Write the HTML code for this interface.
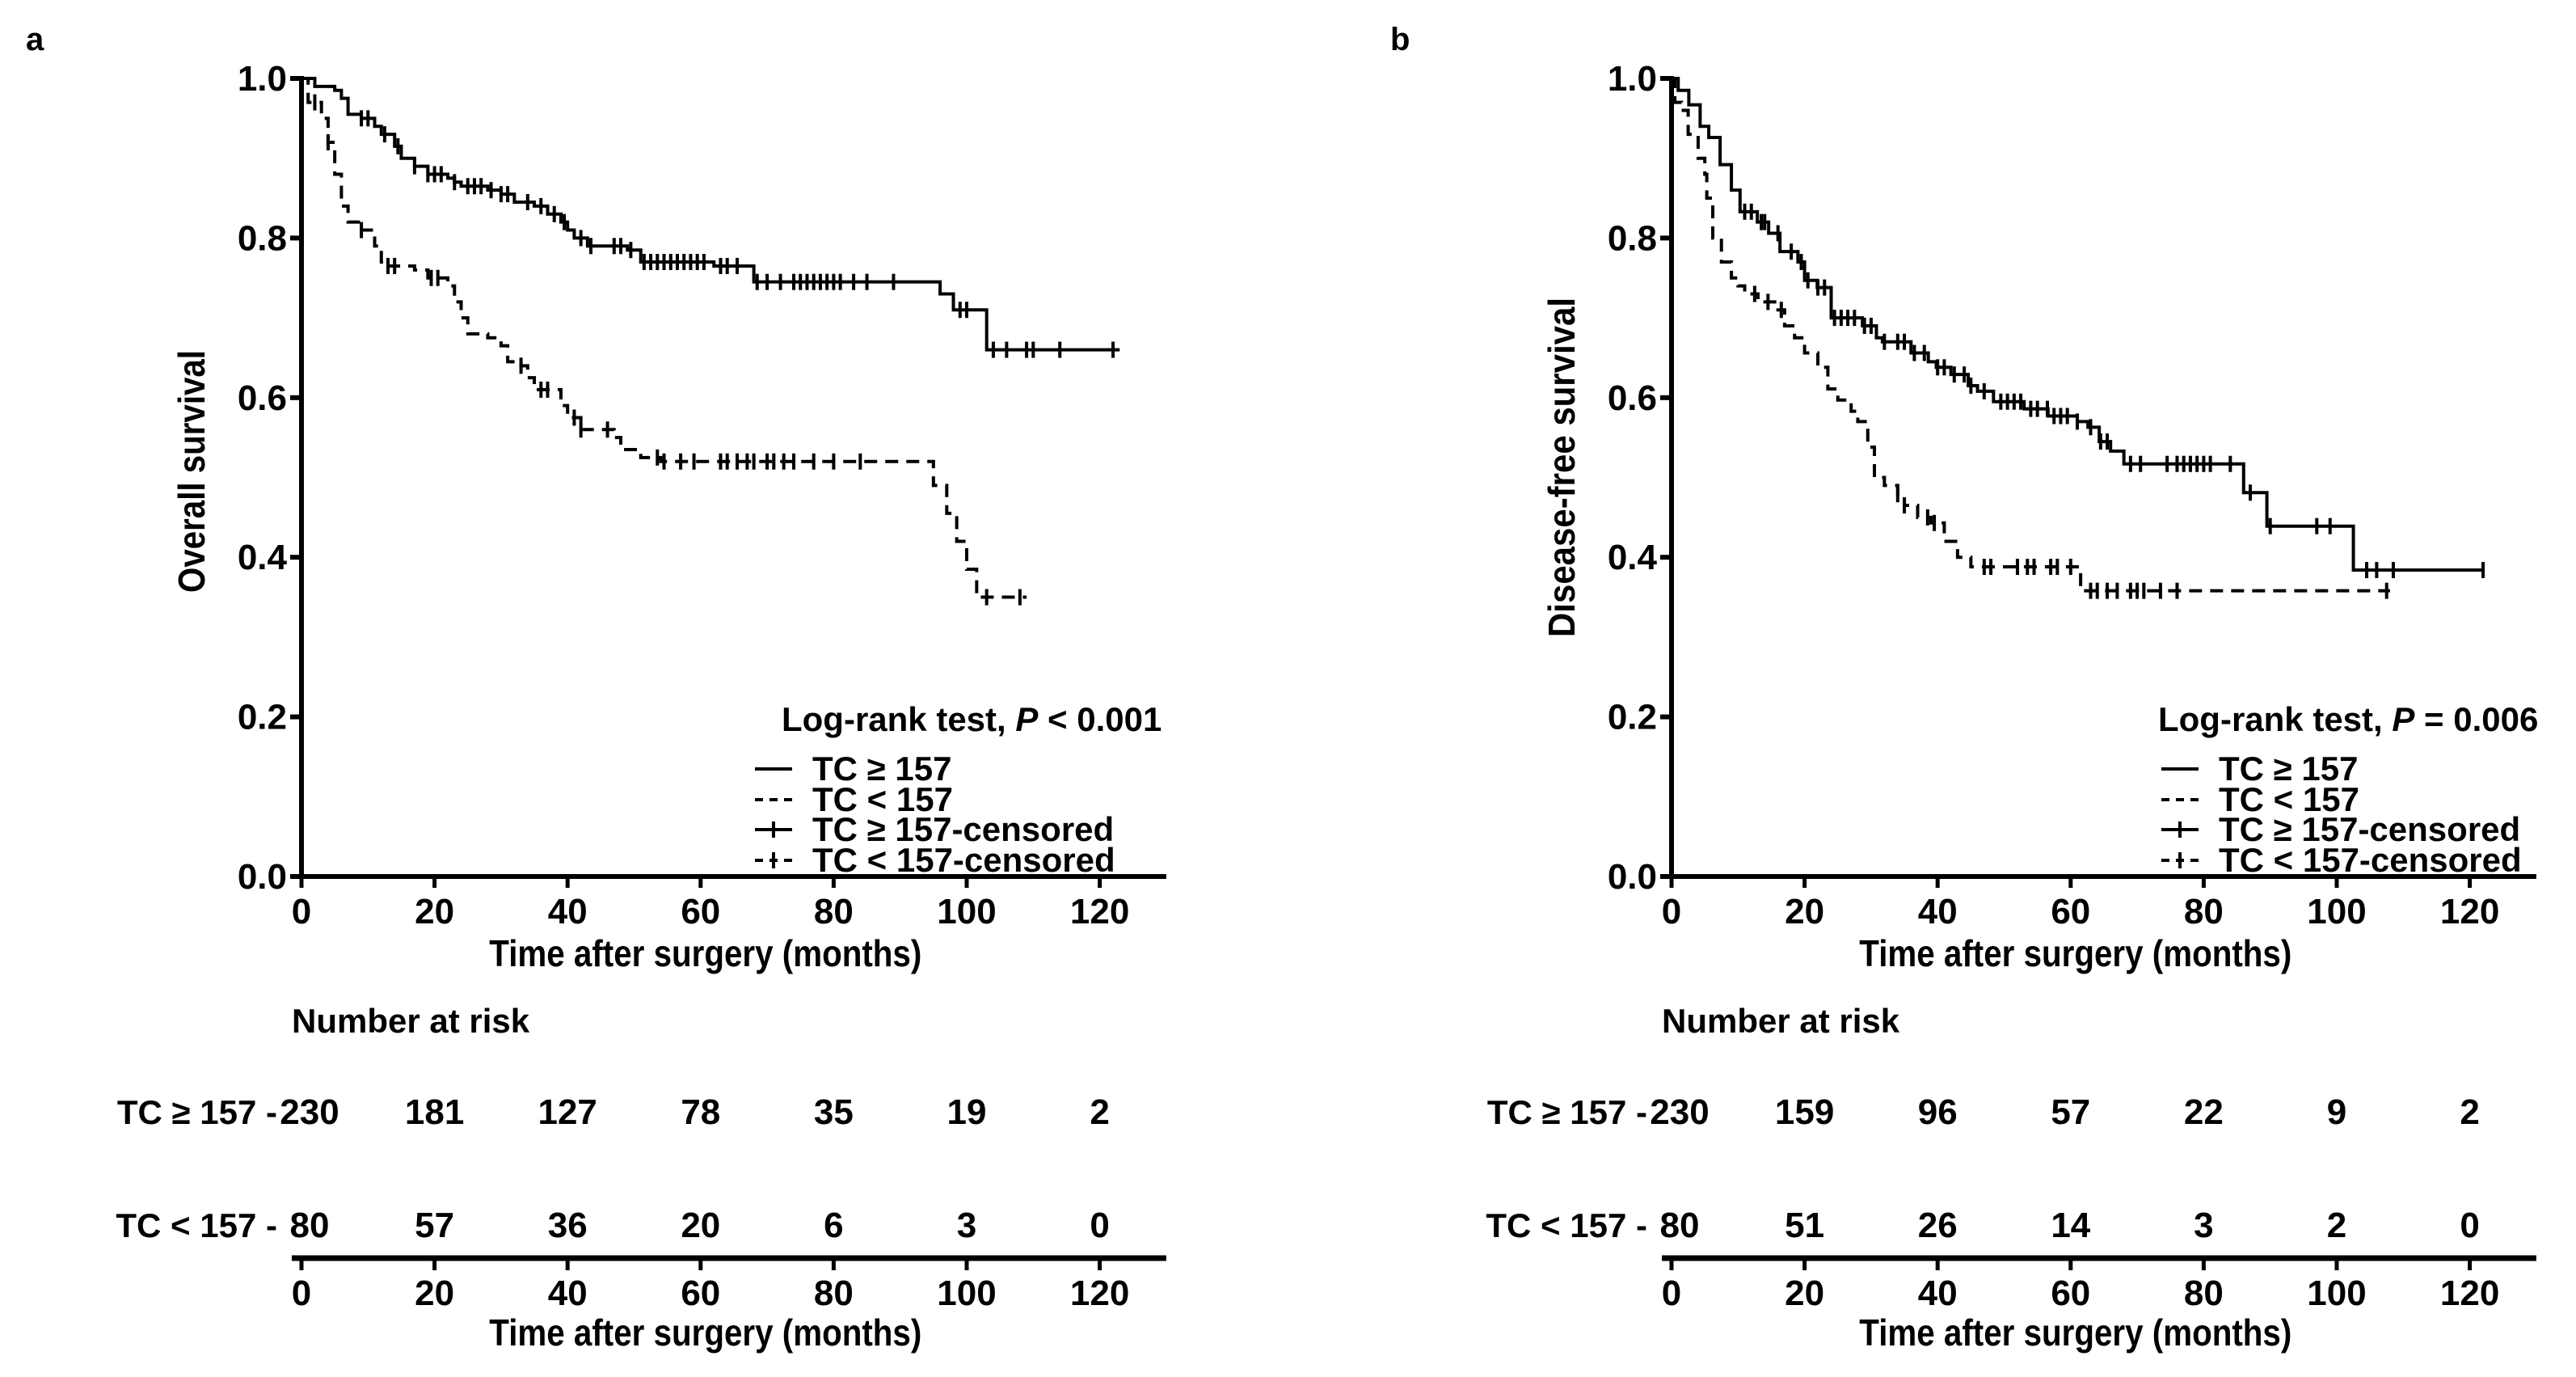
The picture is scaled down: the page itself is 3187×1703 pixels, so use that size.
<!DOCTYPE html>
<html><head><meta charset="utf-8"><style>
html,body{margin:0;padding:0;background:#fff;}
svg{display:block;}
text{font-family:"Liberation Sans",sans-serif;font-weight:bold;fill:#000;}
</style></head><body>
<svg id="fig" width="3187" height="1703" viewBox="0 0 3187 1703" xmlns="http://www.w3.org/2000/svg"></svg>
<script>
// ---- Data ----
const tickMonths = [0,20,40,60,80,100,120];
const yTicks = [0,0.2,0.4,0.6,0.8,1.0];
const yTickLabels = ["0.0","0.2","0.4","0.6","0.8","1.0"];

const aHighT = [0,2,5,6,7,9,11,12,14,15,17,19,22,23,24,28,30,32,35,37,39,40,41,43,49,51,62,68,96,98,103];
const aHighS = [1,0.99,0.985,0.975,0.955,0.95,0.94,0.93,0.915,0.90,0.89,0.88,0.875,0.87,0.865,0.86,0.855,0.845,0.84,0.83,0.82,0.81,0.80,0.79,0.785,0.77,0.765,0.745,0.73,0.71,0.66];
const aHighEnd = 123;
const aHighCens = [9,10,12.5,14.5,17,19,20,21,23,25,26,27,28.5,30,31,34,36,38,39.5,42,43.5,47,48,49.5,51.5,52.5,53.5,54.5,55.5,56.5,57.5,58.5,59.5,60.5,63,64,65.5,68.5,70,72,74,75,76,77,78,79,80,81,83,85,89,99,100,104,106,109,110,114,122];

const aLowT = [0,1,3,4,5,6,7,9,11,12,13,17,19,22,23,24,25,28,30,31,33,34,35,39,40,42,47,48,51,54,95,97,98.5,100,101.5];
const aLowS = [1,0.97,0.95,0.92,0.88,0.84,0.82,0.81,0.79,0.77,0.765,0.76,0.75,0.74,0.72,0.70,0.68,0.675,0.665,0.645,0.64,0.625,0.61,0.59,0.575,0.56,0.55,0.535,0.525,0.52,0.49,0.455,0.42,0.385,0.35];
const aLowEnd = 109;
const aLowCens = [2,4,9,13,14,19.5,20.5,33,36,37,41,42,46,53.5,54.5,57,59,63,64,65.5,67,68,70,71,72.5,74,77,80,84,103,108];

const bHighT = [0,1,2.6,4.3,5.6,7.3,9,10.3,12.9,14.6,16.3,19,20,21.9,24,28.7,30.8,31.7,36,38.6,39.8,42,44.6,46,48.4,53,56.6,61,62.6,64.3,66,68,86,89.5,102.5];
const bHighS = [1,0.985,0.967,0.94,0.926,0.892,0.86,0.833,0.82,0.806,0.783,0.77,0.747,0.738,0.70,0.69,0.675,0.67,0.656,0.645,0.638,0.629,0.615,0.608,0.595,0.586,0.577,0.57,0.563,0.545,0.533,0.517,0.481,0.439,0.384];
const bHighEnd = 122;
const bHighCens = [11,12,13.5,14,16,18,19.5,20.5,22,23,24.5,25.5,26.5,27.5,29,30,32,34,35,36.5,38,40,41,42.5,44,45,47,49.5,50.5,51.5,52.5,54,55,56.5,57.5,58.5,59.5,61,63,64.5,65.5,69,70.5,74.5,76,77,78,79,80,81,84,87,90,97,99,104.5,106,108.5,122];

const bLowT = [0,0.5,1.5,2.5,4,5,5.3,6.2,7.5,9,10,11,13,16,17,18.5,20,22,23.5,25,27,28,29.5,30.5,32,34,35,37,39,41,43,45,61.5];
const bLowS = [1,0.97,0.96,0.93,0.90,0.88,0.85,0.80,0.77,0.75,0.74,0.73,0.72,0.71,0.69,0.675,0.656,0.638,0.611,0.597,0.583,0.57,0.538,0.50,0.49,0.479,0.465,0.45,0.443,0.42,0.40,0.388,0.358];
const bLowEnd = 108;
const bLowCens = [12.5,14.5,16.5,34,35,38.5,39.5,47,48,52,53.5,54.5,57,58,60,63,64,65.5,67,69,70,71,73.5,76,107.5];

const aRiskHigh = [230,181,127,78,35,19,2];
const aRiskLow = [80,57,36,20,6,3,0];
const bRiskHigh = [230,159,96,57,22,9,2];
const bRiskLow = [80,51,26,14,3,2,0];

// ---- Drawing ----
const svg = document.getElementById('fig');
const NS = 'http://www.w3.org/2000/svg';
function el(tag, attrs, parent){
  const e = document.createElementNS(NS, tag);
  for (const k in attrs) e.setAttribute(k, attrs[k]);
  (parent||svg).appendChild(e);
  return e;
}
function txt(str, x, y, size, anchor, parent, len){
  const t = el('text', {x:x, y:y, 'font-size':size, 'text-anchor':anchor||'start'}, parent);
  if (len){ t.setAttribute('textLength', len); t.setAttribute('lengthAdjust','spacingAndGlyphs'); }
  t.textContent = str;
  return t;
}

function panel(p){
  const g = el('g', {});
  
  
  const x0 = p.x0, pxm = 8.23, yTop = 97, yBot = 1084;
  const X = m => x0 + m*pxm;
  const Y = s => yBot - s*(yBot-yTop);
  const xEnd = X(130);

  const lbl = txt(p.letter, p.letterX, 62, 40, 'start', g);
  
  

  const ya = el('line', {x1:x0, y1:yTop-3, x2:x0, y2:yBot+3, stroke:'#000','stroke-width':6}, g);
  
  
  const xa = el('line', {x1:x0-3, y1:yBot, x2:xEnd, y2:yBot, stroke:'#000','stroke-width':6}, g);
  
  
  yTicks.forEach((v,i)=>{
    el('line', {x1:x0-14, y1:Y(v), x2:x0, y2:Y(v), stroke:'#000','stroke-width':6}, g);
    const t = txt(yTickLabels[i], x0-18, Y(v)+15, 44, 'end', g);
    
    
  });
  tickMonths.forEach(m=>{
    el('line', {x1:X(m), y1:yBot, x2:X(m), y2:yBot+14, stroke:'#000','stroke-width':5}, g);
    const t = txt(String(m), X(m), yBot+58, 44, 'middle', g);
    
    
  });
  const xt = txt('Time after surgery (months)', X(60)+6, 1195, 46, 'middle', g, 535);
  
  
  const yt = txt(p.ytitle, 0, 0, 46, 'middle', g, p.ytitleLen);
  yt.setAttribute('transform', 'translate(' + (x0-120) + ',' + p.ytitleY + ') rotate(-90)');
  
  

  function stepPath(T, S, end){
    let d = 'M' + X(T[0]) + ',' + Y(S[0]);
    for (let i=1;i<T.length;i++){
      d += ' L' + X(T[i]) + ',' + Y(S[i-1]) + ' L' + X(T[i]) + ',' + Y(S[i]);
    }
    d += ' L' + X(end) + ',' + Y(S[S.length-1]);
    return d;
  }
  function sAt(T, S, m){
    let s = S[0];
    for (let i=0;i<T.length;i++){ if (T[i] <= m) s = S[i]; }
    return s;
  }
  function series(T,S,end,cens,dashed,name){
    const path = el('path', {d:stepPath(T,S,end), fill:'none', stroke:'#000','stroke-width':4}, g);
    if (dashed) path.setAttribute('stroke-dasharray','16 10');
    
    
    cens.forEach(m=>{
      const y = Y(sAt(T,S,m));
      const c = el('line', {x1:X(m), y1:y-10, x2:X(m), y2:y+10, stroke:'#000','stroke-width':4}, g);
      
      
    });
  }
  series(p.hT,p.hS,p.hEnd,p.hC,false,'tc-high');
  series(p.lT,p.lS,p.lEnd,p.lC,true,'tc-low');

  const lg = el('g', {}, g);
  
  
  const lx = p.legX;
  const lr = txt('Log-rank test, ', lx + p.lrOff, 904, 42, 'start', lg);
  const it = el('tspan', {'font-style':'italic'}, lr); it.textContent = 'P';
  const rest = el('tspan', {}, lr); rest.textContent = p.pText;
  
  
  const rows = [[965,'TC \u2265 157',false,false],[1003,'TC < 157',true,false],[1040,'TC \u2265 157-censored',false,true],[1078,'TC < 157-censored',true,true]];
  rows.forEach(r=>{
    const ly = r[0]-14;
    const ln = el('line', {x1:lx+4, y1:ly, x2:lx+50, y2:ly, stroke:'#000','stroke-width':4}, lg);
    if (r[2]) ln.setAttribute('stroke-dasharray','10 8');
    if (r[3]) el('line', {x1:lx+27, y1:ly-10, x2:lx+27, y2:ly+10, stroke:'#000','stroke-width':4}, lg);
    const t = txt(r[1], lx+75, r[0], 42, 'start', lg);
    
    
  });

  const nr = txt('Number at risk', x0-12, 1277, 42, 'start', g);
  
  
  const r1 = txt('TC \u2265 157 -', x0-30, 1390, 42, 'end', g);
  
  
  const r2 = txt('TC < 157 -', x0-30, 1530, 42, 'end', g);
  
  
  tickMonths.forEach((m,i)=>{
    const a = txt(String(p.rH[i]), X(m)+ (i===0?10:0), 1390, 44, 'middle', g);
    
    
    const b = txt(String(p.rL[i]), X(m)+ (i===0?10:0), 1530, 44, 'middle', g);
    
    
  });
  const ra = el('line', {x1:x0-12, y1:1556, x2:xEnd, y2:1556, stroke:'#000','stroke-width':7}, g);
  
  
  tickMonths.forEach(m=>{
    el('line', {x1:X(m), y1:1556, x2:X(m), y2:1571, stroke:'#000','stroke-width':5}, g);
    const t = txt(String(m), X(m), 1614, 44, 'middle', g);
    
    
  });
  const rt = txt('Time after surgery (months)', X(60)+6, 1664, 46, 'middle', g, 535);
  
  
}

panel({id:'overall-survival', letter:'a', letterX:32, x0:373, ytitle:'Overall survival', ytitleY:583, ytitleLen:300,
  hT:aHighT,hS:aHighS,hEnd:aHighEnd,hC:aHighCens,lT:aLowT,lS:aLowS,lEnd:aLowEnd,lC:aLowCens,
  legX:930, lrOff:37, pText:' < 0.001', rH:aRiskHigh, rL:aRiskLow});
panel({id:'disease-free-survival', letter:'b', letterX:1720, x0:2068, ytitle:'Disease-free survival', ytitleY:578, ytitleLen:420,
  hT:bHighT,hS:bHighS,hEnd:bHighEnd,hC:bHighCens,lT:bLowT,lS:bLowS,lEnd:bLowEnd,lC:bLowCens,
  legX:2670, lrOff:0, pText:' = 0.006', rH:bRiskHigh, rL:bRiskLow});
</script>
</body></html>
